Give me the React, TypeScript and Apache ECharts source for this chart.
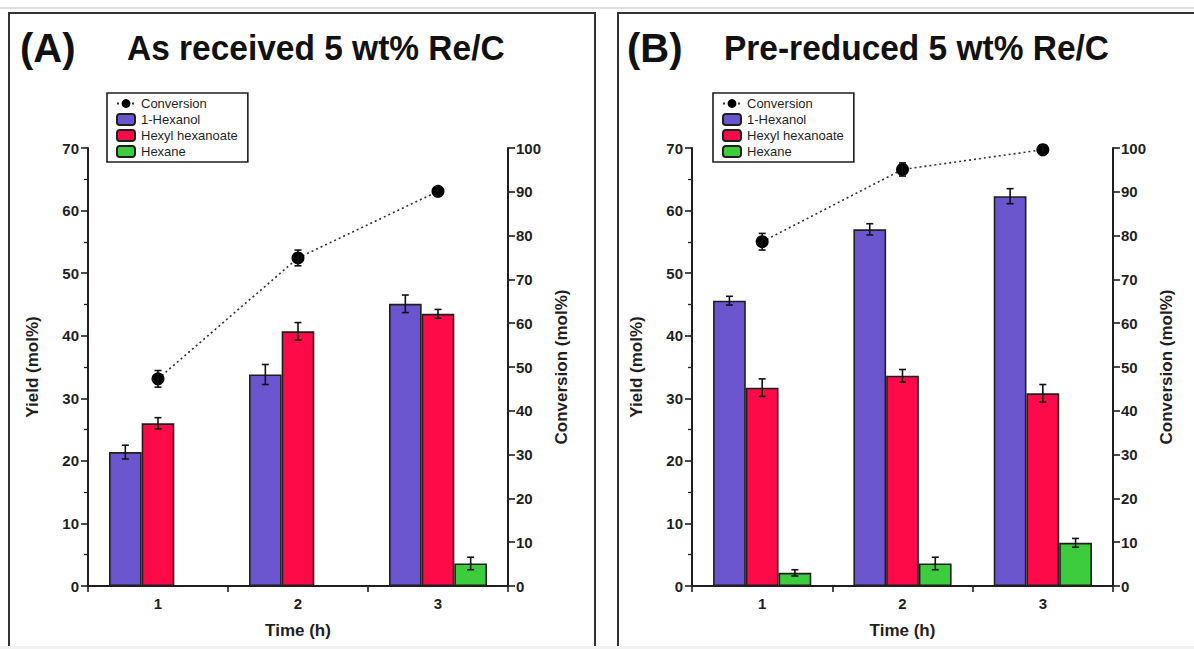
import React, { useEffect, useRef } from "react";
import * as echarts from "echarts";

const categories = ["1", "2", "3"];

const hexanolA = [21.4, 33.8, 45.1];
const hexanolAErr = [1.1, 1.6, 1.4];
const hexanoateA = [26.0, 40.7, 43.5];
const hexanoateAErr = [0.9, 1.4, 0.7];
const hexaneA = [0, 0, 3.6];
const hexaneAErr = [0, 0, 1.0];
const conversionA = [47.3, 74.9, 90.1];
const conversionAErr = [1.9, 1.8, 1.0];

const hexanolB = [45.6, 57.0, 62.3];
const hexanolBErr = [0.7, 0.9, 1.2];
const hexanoateB = [31.7, 33.6, 30.8];
const hexanoateBErr = [1.4, 1.0, 1.4];
const hexaneB = [2.1, 3.6, 6.9];
const hexaneBErr = [0.5, 1.0, 0.7];
const conversionB = [78.6, 95.1, 99.6];
const conversionBErr = [1.9, 1.5, 1.0];

const yieldTicks = { min: 0, max: 70, interval: 10 };
const convTicks = { min: 0, max: 100, interval: 10 };

const PURPLE = "#6A55CF";
const RED = "#FF0A48";
const GREEN = "#3DCC3D";
const INK = "#1f1f1f";
const FONT = "Liberation Sans, Arial, sans-serif";

function errData(vals: number[], errs: number[], k: number) {
  return vals.map((v, i) => [i, v, errs[i], k]);
}

const renderErr = (params: any, api: any) => {
  const x = api.value(0);
  const v = api.value(1);
  const e = api.value(2);
  const k = api.value(3);
  if (!e) return null;
  const band = api.size([1, 0])[0];
  const bw = (band * 0.7) / 3;
  const off = k < 0 ? 0 : (k - 1) * bw;
  const top = api.coord([x, v + e]);
  const bot = api.coord([x, v - e]);
  const cx = top[0] + off;
  const hw = 3.5;
  const st = { stroke: "#111", lineWidth: 1.6 };
  return {
    type: "group",
    children: [
      { type: "line", shape: { x1: cx, y1: top[1], x2: cx, y2: bot[1] }, style: st },
      { type: "line", shape: { x1: cx - hw, y1: top[1], x2: cx + hw, y2: top[1] }, style: st },
      { type: "line", shape: { x1: cx - hw, y1: bot[1], x2: cx + hw, y2: bot[1] }, style: st },
    ],
  };
};

function axesFor(gi: number) {
  const axisLine = { show: true, lineStyle: { color: INK, width: 2 } };
  const label = { color: INK, fontWeight: "bold" as const, fontSize: 15, fontFamily: FONT };
  const xAxis = {
    type: "category",
    gridIndex: gi,
    data: categories,
    axisLine,
    axisTick: { show: true, length: 6, lineStyle: { color: INK, width: 1.6 } },
    axisLabel: { ...label, margin: 10 },
    name: "Time (h)",
    nameLocation: "middle",
    nameGap: 36,
    nameTextStyle: { ...label, fontSize: 17 },
  };
  const yLeft = {
    type: "value",
    gridIndex: gi,
    ...yieldTicks,
    position: "left",
    axisLine,
    axisTick: { show: true, length: 7, lineStyle: { color: INK, width: 1.6 } },
    minorTick: { show: true, splitNumber: 2, length: 4, lineStyle: { color: INK, width: 1.3 } },
    splitLine: { show: false },
    axisLabel: { ...label, margin: 9 },
    name: "Yield (mol%)",
    nameLocation: "middle",
    nameRotate: 90,
    nameGap: 47,
    nameTextStyle: { ...label, fontSize: 17 },
  };
  const yRight = {
    type: "value",
    gridIndex: gi,
    ...convTicks,
    position: "right",
    axisLine,
    axisTick: { show: true, length: 7, lineStyle: { color: INK, width: 1.6 } },
    splitLine: { show: false },
    axisLabel: { ...label, margin: 8 },
    name: "Conversion (mol%)",
    nameLocation: "middle",
    nameRotate: 90,
    nameGap: 45,
    nameTextStyle: { ...label, fontSize: 17 },
  };
  return { xAxis, yLeft, yRight };
}

function seriesFor(
  gi: number,
  hexanol: number[],
  hexanolErr: number[],
  hexanoate: number[],
  hexanoateErr: number[],
  hexane: number[],
  hexaneErr: number[],
  conv: number[],
  convErr: number[]
) {
  const xi = gi;
  const yl = gi * 2;
  const yr = gi * 2 + 1;
  const barBase = {
    type: "bar",
    xAxisIndex: xi,
    yAxisIndex: yl,
    barGap: "0%",
    barCategoryGap: "30%",
    z: 2,
  };
  const border = { borderColor: INK, borderWidth: 1.6 };
  return [
    { ...barBase, name: "1-Hexanol", data: hexanol, itemStyle: { color: PURPLE, ...border } },
    { ...barBase, name: "Hexyl hexanoate", data: hexanoate, itemStyle: { color: RED, ...border } },
    { ...barBase, name: "Hexane", data: hexane, itemStyle: { color: GREEN, ...border } },
    {
      type: "custom",
      xAxisIndex: xi,
      yAxisIndex: yl,
      renderItem: renderErr,
      data: [
        ...errData(hexanol, hexanolErr, 0),
        ...errData(hexanoate, hexanoateErr, 1),
        ...errData(hexane, hexaneErr, 2),
      ],
      z: 5,
      silent: true,
    },
    {
      type: "line",
      name: "Conversion",
      xAxisIndex: xi,
      yAxisIndex: yr,
      data: conv,
      symbol: "circle",
      symbolSize: 13,
      itemStyle: { color: "#000" },
      lineStyle: { color: "#333", width: 1.6, type: [2, 3] },
      z: 6,
    },
    {
      type: "custom",
      xAxisIndex: xi,
      yAxisIndex: yr,
      renderItem: renderErr,
      data: errData(conv, convErr, -1),
      z: 7,
      silent: true,
    },
  ];
}

function legendFor(left: number) {
  return {
    left,
    top: 93,
    orient: "vertical",
    data: ["Conversion", "1-Hexanol", "Hexyl hexanoate", "Hexane"],
    itemWidth: 18,
    itemHeight: 11,
    itemGap: 3,
    padding: [4, 10, 4, 9],
    borderColor: INK,
    borderWidth: 1.6,
    selectedMode: false,
    textStyle: { color: INK, fontSize: 13, fontFamily: FONT, padding: [0, 0, 0, 1] },
  };
}

export default function App() {
  const ref = useRef<HTMLDivElement>(null);
  useEffect(() => {
    if (!ref.current) return;
    const chart = echarts.init(ref.current, null, { renderer: "svg" });
    const a = axesFor(0);
    const b = axesFor(1);
    const titleFont = (size: number) => `bold ${size}px ${FONT}`;
    chart.setOption({
      animation: false,
      backgroundColor: "#ffffff",
      textStyle: { fontFamily: FONT },
      grid: [
        { left: 88, top: 148, width: 420, height: 438 },
        { left: 692, top: 148, width: 421, height: 438 },
      ],
      xAxis: [a.xAxis, b.xAxis],
      yAxis: [a.yLeft, a.yRight, b.yLeft, b.yRight],
      legend: [legendFor(107), legendFor(713)],
      series: [
        ...seriesFor(0, hexanolA, hexanolAErr, hexanoateA, hexanoateAErr, hexaneA, hexaneAErr, conversionA, conversionAErr),
        ...seriesFor(1, hexanolB, hexanolBErr, hexanoateB, hexanoateBErr, hexaneB, hexaneBErr, conversionB, conversionBErr),
      ],
      graphic: [
        { type: "line", shape: { x1: 0, y1: 8, x2: 1194, y2: 8 }, style: { stroke: "#bdbdbd", lineWidth: 1 }, silent: true },
        { type: "rect", shape: { x: 9, y: 13, width: 586, height: 700 }, style: { fill: "none", stroke: "#333", lineWidth: 2 }, silent: true },
        { type: "rect", shape: { x: 618, y: 13, width: 640, height: 700 }, style: { fill: "none", stroke: "#333", lineWidth: 2 }, silent: true },
        { type: "rect", shape: { x: 0, y: 646, width: 1194, height: 3 }, style: { fill: "#f2f2f2" }, silent: true, z: 10 },
        { type: "text", x: 20, y: 48, style: { text: "(A)", font: titleFont(40), fill: "#111", verticalAlign: "middle" } },
        { type: "text", x: 127, y: 48, scaleX: 0.93, style: { text: "As received 5 wt% Re/C", font: titleFont(36), fill: "#111", verticalAlign: "middle" } },
        { type: "text", x: 627, y: 48, style: { text: "(B)", font: titleFont(40), fill: "#111", verticalAlign: "middle" } },
        { type: "text", x: 724, y: 48, scaleX: 0.93, style: { text: "Pre-reduced 5 wt% Re/C", font: titleFont(36), fill: "#111", verticalAlign: "middle" } },
      ],
    });
    return () => chart.dispose();
  }, []);
  return (
    <div
      ref={ref}
      style={{ position: "absolute", left: 0, top: 0, width: 1194, height: 649 }}
    />
  );
}
